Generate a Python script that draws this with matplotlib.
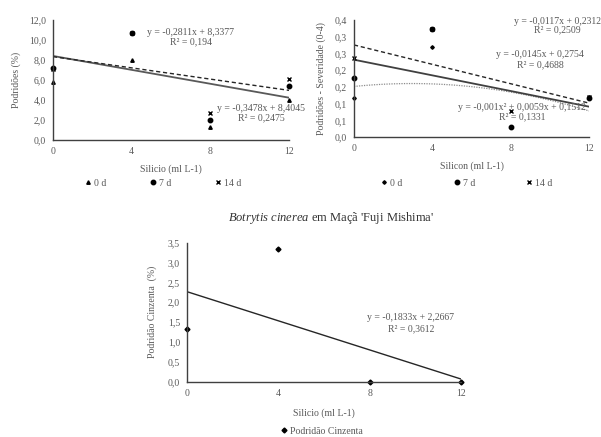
import numpy as np
import matplotlib
matplotlib.use("Agg")
import matplotlib.pyplot as plt

plt.rcParams['font.family'] = ['Liberation Serif', 'DejaVu Serif']
plt.rcParams['mathtext.fontset'] = 'custom'
plt.rcParams['mathtext.rm'] = 'Liberation Serif'
plt.rcParams['mathtext.it'] = 'Liberation Serif:italic'

# ---------------- data ----------------
doses = [0, 4, 8, 12]
x_ticks = [0, 4, 8, 12]

# chart 1: Podridões (%)
rot_0d = [5.8, 8.0, 1.3, 4.0]
rot_7d = [7.2, 10.7, 2.0, 5.4]
rot_14d = [7.1, 10.7, 2.7, 6.1]
rot_fit_7d = [-0.3478, 8.4045]      # solid
rot_fit_14d = [-0.2811, 8.3377]     # dashed
rot_yticks = [0, 2, 4, 6, 8, 10, 12]
rot_yticklabels = ['0,0', '2,0', '4,0', '6,0', '8,0', '10,0', '12,0']

# chart 2: Podridões - Severidade (0-4)
sev_0d = [0.116, 0.268, 0.031, 0.12]
sev_7d = [0.176, 0.322, 0.031, 0.117]
sev_14d = [0.235, 0.322, 0.079, 0.12]
sev_fit_0d = [-0.001, 0.0059, 0.1512]  # dotted (quadratic)
sev_fit_7d = [-0.0117, 0.2312]         # solid
sev_fit_14d = [-0.0145, 0.2754]        # dashed
sev_yticks = [0, 0.05, 0.10, 0.15, 0.20, 0.25, 0.30, 0.35]
sev_yticklabels = ['0,0', '0,1', '0,1', '0,2', '0,2', '0,3', '0,3', '0,4']

# chart 3: Podridão Cinzenta (%)
gray_rot = [1.333, 3.333, 0.0, 0.0]
gray_fit = [-0.1833, 2.2667]
gray_yticks = [0, 0.5, 1.0, 1.5, 2.0, 2.5, 3.0, 3.5]
gray_yticklabels = ['0,0', '0,5', '1,0', '1,5', '2,0', '2,5', '3,0', '3,5']

TXT = '#595959'
AX = '#404040'
FS = 7

fig = plt.figure(figsize=(6.01, 4.37), dpi=100)


def style(ax, ylim, yticks, yticklabels):
    ax.set_xlim(0, 12)
    ax.set_ylim(*ylim)
    ax.set_xticks(x_ticks)
    ax.set_xticklabels([str(v) for v in x_ticks])
    ax.set_yticks(yticks)
    ax.set_yticklabels(yticklabels)
    for s in ['top', 'right']:
        ax.spines[s].set_visible(False)
    for s in ['left', 'bottom']:
        ax.spines[s].set_color(AX)
        ax.spines[s].set_linewidth(1.0)
    ax.tick_params(length=0, labelsize=FS, colors=TXT, pad=5)
    ax.patch.set_alpha(0)


xx = np.linspace(0, 12, 100)

# ---------- chart 1 ----------
ax1 = fig.add_axes([53/601, 1-140/437, 236/601, 120/437])
style(ax1, (0, 12), rot_yticks, rot_yticklabels)
ax1.plot(xx, np.polyval(rot_fit_7d, xx), color='#595959', lw=1.3)
ax1.plot(xx, np.polyval(rot_fit_14d, xx), color='#262626', lw=1.0, ls=(0, (3, 2)))
h0, = ax1.plot(doses, rot_0d, ls='none', marker='^', ms=2.5, color='black', clip_on=False)
h7, = ax1.plot(doses, rot_7d, ls='none', marker='o', ms=3.2, color='black', clip_on=False)
h14, = ax1.plot(doses, rot_14d, ls='none', marker='x', ms=3, mew=1, color='black', clip_on=False)
ax1.set_xlabel('Silicio (ml L-1)', fontsize=FS, color=TXT, labelpad=6)
ax1.set_ylabel('Podridões (%)', fontsize=FS, color=TXT, labelpad=6)
ax1.text(7.0, 10.8, 'y = -0,2811x + 8,3377', fontsize=FS, color=TXT, ha='center', va='center')
ax1.text(7.0, 9.8, 'R² = 0,194', fontsize=FS, color=TXT, ha='center', va='center')
ax1.text(10.6, 3.2, 'y = -0,3478x + 8,4045', fontsize=FS, color=TXT, ha='center', va='center')
ax1.text(10.6, 2.2, 'R² = 0,2475', fontsize=FS, color=TXT, ha='center', va='center')
fig.legend([h0, h7, h14], ['0 d', '7 d', '14 d'], loc='center', bbox_to_anchor=(163/601, 1-183/437),
           ncol=3, frameon=False, fontsize=FS, labelcolor=TXT, handlelength=0.6, handletextpad=0.3,
           columnspacing=4.5)

# ---------- chart 2 ----------
ax2 = fig.add_axes([354/601, 1-137/437, 235/601, 117/437])
style(ax2, (0, 0.35), sev_yticks, sev_yticklabels)
ax2.plot(xx, np.polyval(sev_fit_0d, xx), color='#8c8c8c', lw=0.9, ls=(0, (1, 1)))
ax2.plot(xx, np.polyval(sev_fit_7d, xx), color='#404040', lw=1.3)
ax2.plot(xx, np.polyval(sev_fit_14d, xx), color='#262626', lw=1.0, ls=(0, (3, 2)))
g0, = ax2.plot(doses, sev_0d, ls='none', marker='D', ms=1.8, color='black', clip_on=False)
g7, = ax2.plot(doses, sev_7d, ls='none', marker='o', ms=3.2, color='black', clip_on=False)
g14, = ax2.plot(doses, sev_14d, ls='none', marker='x', ms=3, mew=1, color='black', clip_on=False)
ax2.set_xlabel('Silicon (ml L-1)', fontsize=FS, color=TXT, labelpad=6)
ax2.set_ylabel('Podridões - Severidade (0-4)', fontsize=FS, color=TXT, labelpad=6)
ax2.text(10.4, 0.346, 'y = -0,0117x + 0,2312', fontsize=FS, color=TXT, ha='center', va='center')
ax2.text(10.4, 0.322, 'R² = 0,2509', fontsize=FS, color=TXT, ha='center', va='center')
ax2.text(9.5, 0.247, 'y = -0,0145x + 0,2754', fontsize=FS, color=TXT, ha='center', va='center')
ax2.text(9.5, 0.217, 'R² = 0,4688', fontsize=FS, color=TXT, ha='center', va='center')
ax2.text(8.6, 0.089, 'y = -0,001x² + 0,0059x + 0,1512', fontsize=FS, color=TXT, ha='center', va='center')
ax2.text(8.6, 0.059, 'R² = 0,1331', fontsize=FS, color=TXT, ha='center', va='center')
fig.legend([g0, g7, g14], ['0 d', '7 d', '14 d'], loc='center', bbox_to_anchor=(467/601, 1-183/437),
           ncol=3, frameon=False, fontsize=FS, labelcolor=TXT, handlelength=0.6, handletextpad=0.3,
           columnspacing=5.3)

# ---------- title ----------
fig.text(331/601, 1-218/437, r"$\it{Botrytis\ cinerea}$" + " em Maçã 'Fuji Mishima'",
         fontsize=9, color='#333333', ha='center', va='center')

# ---------- chart 3 ----------
ax3 = fig.add_axes([187/601, 1-381.7/437, 274/601, 139/437])
style(ax3, (0, 3.5), gray_yticks, gray_yticklabels)
ax3.plot(xx, np.polyval(gray_fit, xx), color='#262626', lw=1.0)
k0, = ax3.plot(doses, gray_rot, ls='none', marker='D', ms=2.5, color='black', clip_on=False)
ax3.set_xlabel('Silicio (ml L-1)', fontsize=FS, color=TXT, labelpad=8)
ax3.set_ylabel('Podridão Cinzenta  (%)', fontsize=FS, color=TXT, labelpad=8)
ax3.text(9.8, 1.62, 'y = -0,1833x + 2,2667', fontsize=FS, color=TXT, ha='center', va='center')
ax3.text(9.8, 1.32, 'R² = 0,3612', fontsize=FS, color=TXT, ha='center', va='center')
fig.legend([k0], ['Podridão Cinzenta'], loc='center', bbox_to_anchor=(322/601, 1-431/437),
           frameon=False, fontsize=FS, labelcolor=TXT, handlelength=0.6, handletextpad=0.3)

fig.savefig('out.png', dpi=100)
